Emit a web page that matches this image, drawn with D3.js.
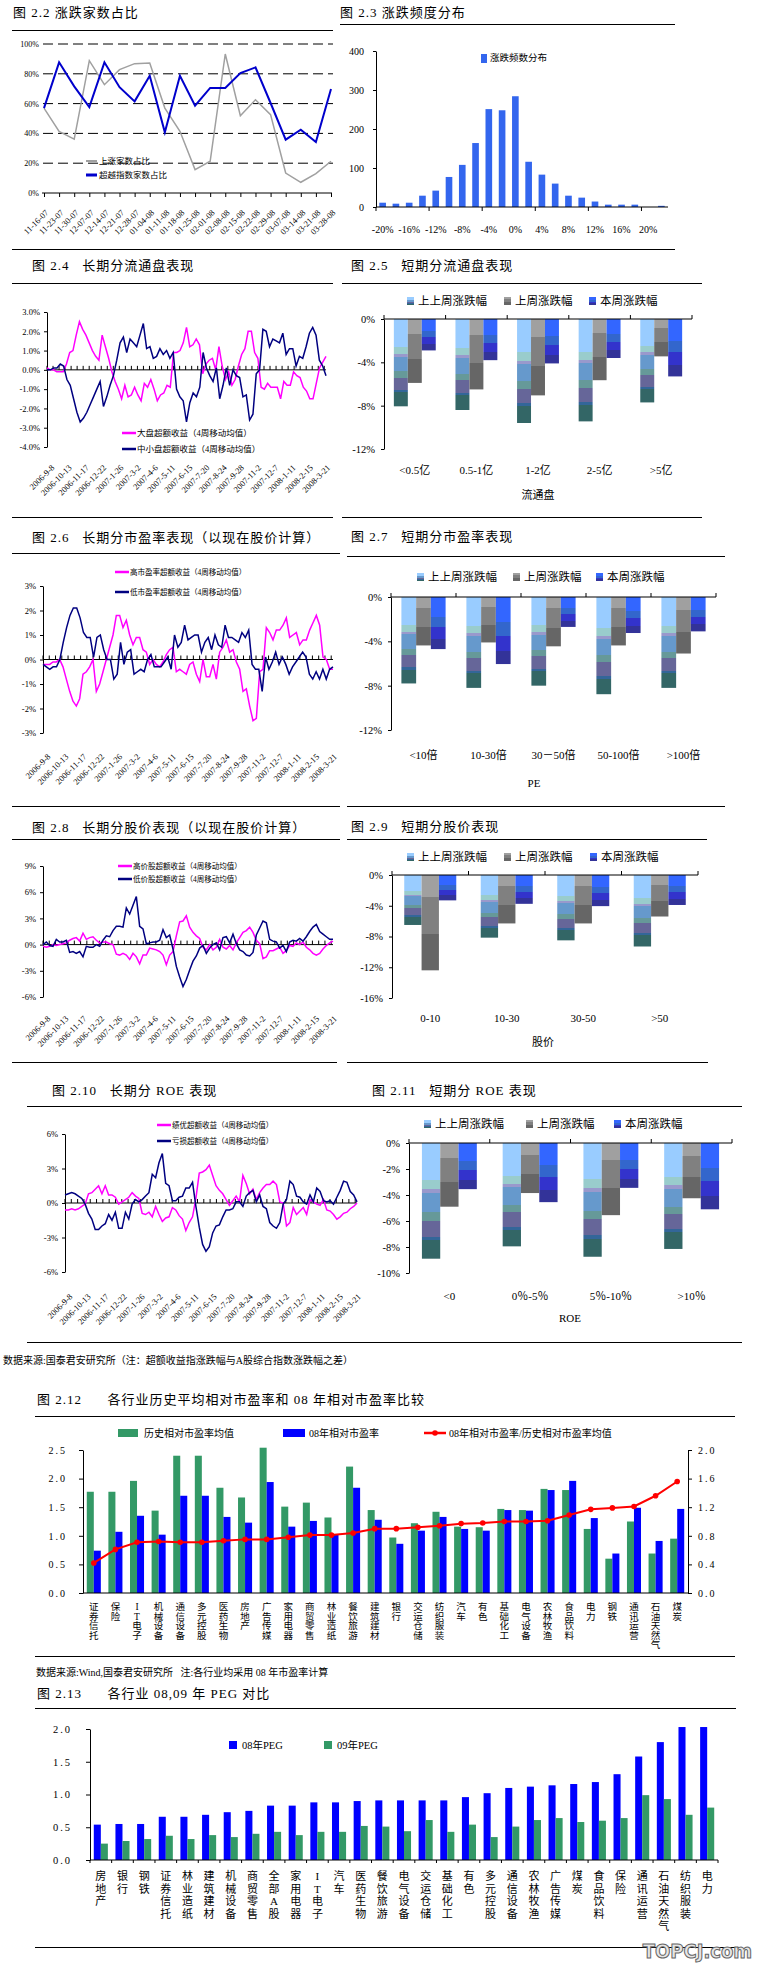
<!DOCTYPE html>
<html>
<head>
<meta charset="utf-8">
<script src="https://cdn.jsdelivr.net/npm/d3@7"></script>
<style>
  body { margin: 0; background: #fff; }
  svg { display: block; }
  text { white-space: pre; }
</style>
</head>
<body>
<div id="chart"></div>
<script>
// ---------------- data ----------------
// 2.2 advancing / beating-index share by week
const adDates = ["11-16-07","11-23-07","11-30-07","12-07-07","12-14-07","12-21-07","12-28-07","01-04-08","01-11-08","01-18-08",
  "01-25-08","02-01-08","02-08-08","02-15-08","02-22-08","02-29-08","03-07-08","03-14-08","03-21-08","03-28-08"];
const adUpShare = [57,41.4,36.2,88.8,72.7,82.8,86.8,87.2,57,41.4,15.7,21.3,93.3,51.9,62.6,52.6,13.4,7.2,13,21.3];
const adBeatShare = [57,87.7,71.6,57.7,87.7,71,61.5,78.7,40.7,78.7,58.6,70.5,70.5,80.5,84.3,60.4,35.8,42.5,34.2,69.8];

// 2.3 frequency of weekly change
const freqBins = ["-20%","-18%","-16%","-14%","-12%","-10%","-8%","-6%","-4%","-2%","0%","2%","4%","6%","8%","10%","12%","14%","16%","18%","20%","22%"];
const freqCounts = [11,8.5,11,29,42,77,108,164,251,248,284,116,83,60,29,24,14,6,6,6,0,3];

// long-period weekly excess returns (4-week moving average)
const longDates = ["2006-9-8","2006-10-13","2006-11-17","2006-12-22","2007-1-26","2007-3-2","2007-4-6","2007-5-11","2007-6-15",
  "2007-7-20","2007-8-24","2007-9-28","2007-11-2","2007-12-7","2008-1-11","2008-2-15","2008-3-21"];
const capLarge = [0.1,0.0,0.0,-0.1,-0.1,-0.1,0.3,0.9,1.0,1.8, 2.5,2.1,1.8,1.4,1.0,0.7,0.5,1.8,1.2,0.6,
  -0.1,-0.6,-1.0,-1.5,-0.8,-1.4,-1.3,-0.9,-1.3,-1.6, -0.7,-0.9,-0.5,-1.0,-1.6,-1.3,-1.2,-0.8,-0.9,0.9,
  0.9,1.0,1.4,2.2,1.2,1.3,1.6,1.3,-0.2,0.3, 0.5,0.6,0.0,1.2,0.2,-0.5,-0.1,-0.8,-0.5,0.2,
  0.8,1.1,2.0,2.0,0.9,0.6,-0.9,-1.0,-0.7,-0.9, -0.9,-0.9,-1.5,-0.6,-0.8,-0.8,-0.1,-0.3,-0.4,-0.9,
  -1.1,-1.5,-1.5,-0.7,0.1,0.4,0.7];
const capSmall = [0.0,0.0,0.1,0.1,0.3,0.2,-0.5,-0.8,-1.5,-2.2, -2.7,-2.5,-2.2,-1.8,-1.4,-1.0,-0.6,-1.9,-1.4,-0.8,
  -0.3,0.5,1.4,1.7,0.9,1.6,1.4,1.2,1.8,2.4, 1.1,1.2,0.6,0.7,1.1,0.8,1.0,0.6,0.9,-1.0,
  -1.4,-1.6,-2.7,-1.7,-1.2,-1.4,-0.9,0.9,0.1,-0.3, -0.6,0.1,-1.5,-0.8,0.1,-0.8,0.0,-0.3,-0.4,-1.4,
  -1.3,-2.6,-2.3,-0.2,0.0,2.1,2.0,1.2,1.6,1.5, 1.4,1.9,0.8,1.1,1.1,0.2,0.7,0.6,1.2,1.9,
  2.2,1.8,0.5,0.2,-0.3];
const peHigh = [-0.2,-0.2,-0.2,-0.1,-0.1,0.0,-0.3,-0.8,-1.3,-1.7, -1.9,-1.6,-0.6,-0.5,-0.3,0.0,-1.3,-1.0,-0.5,0.0,
  0.5,1.0,1.8,1.8,1.3,1.6,1.0,0.6,0.9,0.9, 0.4,0.3,-0.2,0.0,-0.2,-0.3,-0.1,0.2,0.4,0.5,
  -0.5,-0.4,-0.5,-0.6,-0.2,-0.1,-0.6,-0.9,0.0,-0.7, -0.7,-0.2,-0.8,0.3,0.5,0.8,0.3,0.4,-0.1,-0.4,
  -1.3,-1.2,-1.9,-2.5,-2.4,-0.5,-0.4,1.3,1.1,0.8, 1.2,1.2,1.4,1.7,0.9,1.0,1.1,0.6,0.8,0.8,
  1.2,1.5,1.8,1.4,0.1,0.0,-0.4,-0.4];
const peLow = [-0.2,-0.3,-0.4,-0.3,-0.3,0.0,0.7,1.3,1.8,2.1, 2.1,1.7,1.1,0.9,0.9,0.1,0.9,1.0,0.4,0.0,
  0.0,-0.8,-0.6,0.7,-0.2,0.3,0.4,-0.6,-0.5,-0.4, -0.5,0.0,0.2,-0.3,-0.3,-0.3,-0.1,0.1,-0.4,1.0,
  0.5,0.7,1.4,0.8,0.9,1.0,1.0,0.3,0.7,0.9, 0.4,1.0,0.6,0.5,1.4,0.9,0.9,0.8,0.7,1.1,
  0.9,1.2,-0.2,-0.4,-0.4,-1.3,0.1,-0.4,-0.1,0.3, -0.2,0.1,-0.2,-0.6,-0.3,-0.1,0.1,0.3,0.1,-0.6,
  -0.8,-0.5,-0.8,-0.4,-0.8,-0.4,-0.3];
const priceHigh = [-0.2,-0.3,-0.2,0.0,-0.1,0.0,0.1,0.2,0.5,0.7, 0.8,0.4,1.3,0.6,0.8,0.9,0.5,0.2,0.3,0.3,
  0.1,0.0,-1.1,-1.2,-1.0,-1.2,-1.7,-1.0,-1.4,-2.2, -1.2,-1.2,-0.4,-0.5,-0.6,-0.8,-1.2,-2.3,-1.2,-0.8,
  1.0,2.6,2.7,3.3,2.0,1.4,1.0,0.7,-0.3,-0.6, 0.0,-0.6,-0.3,0.6,-0.3,-0.5,-0.1,-0.6,0.2,0.8,
  1.4,1.6,2.0,1.4,0.5,0.1,-1.6,-1.4,-0.7,-0.7, -0.5,-0.3,-1.0,-0.7,-0.1,-0.2,0.2,0.0,0.3,-0.3,
  -0.6,-1.0,-1.2,-1.0,-0.5,-0.1,0.2,0.4];
const priceLow = [0.0,0.3,-0.1,-0.2,0.6,0.3,0.3,0.5,-0.9,-0.8, -1.0,-0.8,-1.4,-0.2,-0.3,-0.3,0.0,-0.2,0.5,1.0,
  0.9,1.6,2.1,2.1,2.0,4.2,3.5,4.5,5.5,2.1, 1.8,0.1,0.2,0.3,0.3,0.5,1.7,0.8,1.1,-0.5,
  -2.5,-3.7,-4.8,-4.0,-2.9,-1.9,-1.3,-0.4,-0.1,-1.0, -0.4,0.0,0.2,-0.6,0.8,0.9,0.2,1.2,0.1,-0.6,
  -0.8,-1.2,-1.3,-0.9,1.1,1.9,2.7,2.5,0.6,0.4, 0.3,-0.4,-0.1,-0.8,0.3,0.5,0.4,0.7,0.4,0.9,
  1.5,2.0,2.3,1.5,1.2,0.9,0.6,0.6];
const roeGood = [-0.6,-0.6,-0.5,-0.6,-0.5,-0.3,-0.1,0.8,0.9,1.2, 1.5,0.8,1.5,0.7,0.7,0.5,-0.1,0.1,0.3,0.5,
  0.9,0.6,0.4,-0.9,-1.0,-0.8,-1.2,-0.3,-1.0,-1.6, -1.3,-1.2,-0.4,-0.6,-1.1,-1.4,-2.4,-1.7,-1.2,0.4,
  2.6,2.7,2.9,3.3,2.4,1.5,1.1,0.8,0.3,-0.2, 0.2,0.6,0.1,2.4,1.7,0.8,1.2,0.3,0.9,1.3,
  1.6,1.6,1.9,1.6,0.1,0.0,-2.0,-1.7,-0.4,-1.0, -0.7,-0.4,-1.0,0.3,0.1,-0.1,-0.2,0.3,-0.6,-0.7,
  -1.0,-1.4,-1.2,-0.9,-0.8,-0.5,-0.3,0.0];
const roeLoss = [0.7,0.8,0.9,0.8,0.6,0.4,-0.1,-0.9,-1.4,-2.3, -2.3,-2.0,-1.8,-1.0,-1.5,-0.8,-2.2,-2.2,-0.8,-1.4,
  -0.1,0.3,0.1,0.3,0.6,0.9,2.5,2.2,3.5,4.3, 1.7,1.5,0.2,0.2,0.5,0.6,1.3,1.3,1.8,-0.3,
  -2.1,-3.6,-4.2,-3.8,-2.6,-2.0,-1.9,-1.2,-0.6,-0.6, -0.5,0.1,0.1,-0.3,0.6,0.9,1.1,0.1,0.7,-0.3,
  -0.5,-1.7,-2.0,-2.2,-1.7,-0.1,0.3,1.9,1.6,0.6, 0.5,0.1,-0.1,0.7,0.1,1.3,1.0,0.2,0.1,0.2,
  -0.1,0.5,1.1,1.9,1.8,1.0,0.7,0.1];

// short-period weekly change by group (%)
const weekSeries = ["上上周涨跌幅","上周涨跌幅","本周涨跌幅"];
const capGroups = ["<0.5亿","0.5-1亿","1-2亿","2-5亿",">5亿"];
const capPrev2 = [-8.06,-8.4,-9.6,-9.45,-7.7];
const capPrev = [-5.9,-6.5,-7.05,-5.65,-3.45];
const capThis = [-2.9,-3.8,-4.1,-3.6,-5.3];
const peGroups = ["<10倍","10-30倍","30－50倍","50-100倍",">100倍"];
const pePrev2 = [-7.8,-8.2,-8.0,-8.77,-8.2];
const pePrev = [-4.37,-4.1,-4.45,-4.37,-5.1];
const peThis = [-4.7,-6.05,-2.7,-3.25,-3.1];
const priceGroups = ["0-10","10-30","30-50",">50"];
const pricePrev2 = [-6.5,-8.15,-8.5,-9.3];
const pricePrev = [-12.4,-6.3,-6.3,-5.4];
const priceThis = [-3.3,-3.75,-4.05,-3.9];
const roeGroups = ["<0","0％-5％","5％-10％",">10％"];
const roePrev2 = [-8.9,-7.95,-8.75,-8.15];
const roePrev = [-4.9,-3.85,-5.55,-4.25];
const roeThis = [-3.55,-4.55,-3.45,-5.1];

// 2.12 relative PE by industry
const industries12 = ["证券信托","保险","IT电子","机械设备","通信设备","多元控股","医药生物","房地产","广告传媒","家用电器",
  "商贸零售","林业造纸","餐饮旅游","建筑建材","银行","交运仓储","纺织服装","汽车","有色","基础化工",
  "电气设备","农林牧渔","食品饮料","电力","钢铁","通讯运营","石油天然气","煤炭"];
const peHist = [1.77,1.77,1.96,1.44,2.40,2.40,1.84,1.67,2.54,1.51,1.58,1.32,2.21,1.45,0.97,1.22,1.42,1.16,1.15,1.47,1.45,1.82,1.80,1.12,0.60,1.25,0.69,0.95];
const pe08 = [0.74,1.07,1.35,1.02,1.70,1.70,1.33,1.23,1.94,1.16,1.26,1.02,1.84,1.28,0.86,1.09,1.33,1.12,1.09,1.45,1.44,1.80,1.96,1.31,0.69,1.49,0.91,1.47];
const peRatio = [0.42,0.61,0.71,0.72,0.71,0.71,0.73,0.75,0.75,0.78,0.81,0.81,0.84,0.90,0.90,0.92,0.94,0.97,0.98,1.00,1.00,1.01,1.09,1.17,1.19,1.21,1.36,1.56];

// 2.13 PEG by industry
const industries13 = ["房地产","银行","钢铁","证券信托","林业造纸","建筑建材","机械设备","商贸零售","全部A股","家用电器",
  "IT电子","汽车","医药生物","餐饮旅游","电气设备","交运仓储","基础化工","有色","多元控股","通信设备",
  "农林牧渔","广告传媒","煤炭","食品饮料","保险","通讯运营","石油天然气","纺织服装","电力"];
const peg08 = [0.54,0.55,0.55,0.66,0.66,0.69,0.73,0.75,0.83,0.83,0.88,0.88,0.90,0.91,0.91,0.91,0.91,0.96,1.02,1.10,1.12,1.14,1.16,1.19,1.31,1.58,1.80,2.03,2.03];
const peg09 = [0.25,0.29,0.32,0.37,0.32,0.38,0.35,0.40,0.43,0.38,0.43,0.43,0.52,0.51,0.44,0.61,0.43,0.54,0.35,0.51,0.61,0.64,0.58,0.60,0.64,0.99,0.93,0.69,0.80];

// ---------------- page ----------------
const FONT = '"Liberation Serif","Noto Sans CJK SC",serif';
const svg = d3.select("#chart").append("svg")
  .attr("width", 762).attr("height", 1966)
  .attr("font-family", FONT);

const defs = svg.append("defs");
// excel-style banded fills for the three weekly series
const barBands = [
  [[0,"#99ccff"],[0.32,"#99cccc"],[0.40,"#9999cc"],[0.43,"#6699cc"],[0.60,"#669999"],[0.67,"#666699"],[0.81,"#336699"],[0.84,"#336666"]],
  [[0,"#a0a0a0"],[0.23,"#808080"],[0.62,"#666666"]],
  [[0,"#3366ff"],[0.38,"#3366cc"],[0.58,"#3333cc"],[0.80,"#333399"]]
];
barBands.forEach((bands, k) => {
  const lg = defs.append("linearGradient").attr("id", "wk" + k)
    .attr("x1", 0).attr("y1", 0).attr("x2", 0).attr("y2", 1);
  bands.forEach(([off, col], j) => {
    const end = j + 1 < bands.length ? bands[j + 1][0] : 1;
    lg.append("stop").attr("offset", off).attr("stop-color", col);
    lg.append("stop").attr("offset", end).attr("stop-color", col);
  });
});

function label(g, x, y, s, size, anchor) {
  return g.append("text").attr("x", x).attr("y", y)
    .attr("font-size", size)
    .attr("text-anchor", anchor || "start")
    .attr("dominant-baseline", "central")
    .text(s);
}
function title(s, x, y) {
  label(svg, x, y, s, 13).attr("letter-spacing", 1);
}
function styleAxis(a, size) {
  a.attr("font-family", null).attr("font-size", size);
  a.select(".domain").attr("stroke", "#000");
  a.selectAll(".tick line").attr("stroke", "#000");
  a.selectAll(".tick text").attr("fill", "#000");
}
function vertLabel(g, x, y0, s, pitch, size) {
  const t = g.append("text").attr("font-size", size).attr("text-anchor", "middle")
    .attr("dominant-baseline", "central");
  Array.from(s).forEach((c, i) => t.append("tspan").attr("x", x).attr("y", y0 + i * pitch).text(c));
}

// horizontal rules of the report layout
const rules = [[12,333,30],[340,675,24],[12,675,249],[12,333,283],[342,702,283],[12,333,517],[342,702,517],
  [12,340,553],[347,725,556],[12,340,806],[347,725,806],[12,340,839],[347,707,839],[12,337,1062],[347,708,1062],
  [27,742,1106],[27,742,1342],[35,735,1416],[35,735,1656],[35,736,1708],[35,736,1947]];
svg.append("g").selectAll("line").data(rules).join("line")
  .attr("x1", d => d[0]).attr("x2", d => d[1])
  .attr("y1", d => d[2] + 0.5).attr("y2", d => d[2] + 0.5)
  .attr("stroke", "#000");

// ---------------- 2.2 ----------------
title("图 2.2 涨跌家数占比", 13, 12);
{
  const g = svg.append("g");
  const x = d3.scalePoint().domain(adDates).range([44, 331]);
  const y = d3.scaleLinear().domain([0, 100]).range([193, 44]);
  g.selectAll("line.grid").data([20, 40, 60, 80, 100]).join("line")
    .attr("x1", 43).attr("x2", 333).attr("y1", d => y(d)).attr("y2", d => y(d))
    .attr("stroke", "#000").attr("stroke-dasharray", "10,5");
  const xa = g.append("g").attr("transform", `translate(0,${y(0)})`)
    .call(d3.axisBottom(x).tickSize(4).tickSizeOuter(0).tickFormat(""));
  styleAxis(xa, 8);
  xa.select(".domain").attr("d", "M-1,0H289").attr("transform", "translate(43,0)");
  const ya = g.append("g").attr("transform", "translate(43,0)")
    .call(d3.axisLeft(y).tickValues([0, 20, 40, 60, 80, 100]).tickSize(0).tickPadding(4).tickFormat(d => d + "%"));
  styleAxis(ya, 8);
  ya.select(".domain").remove();

  const line = d3.line().x((d, i) => x(adDates[i])).y(d => y(d));
  g.append("path").datum(adUpShare).attr("d", line)
    .attr("fill", "none").attr("stroke", "#a0a0a0").attr("stroke-width", 1.5);
  g.append("path").datum(adBeatShare).attr("d", line)
    .attr("fill", "none").attr("stroke", "#0000cc").attr("stroke-width", 2);

  g.selectAll("text.ad").data(adDates).join("text").attr("class", "ad")
    .attr("transform", d => `translate(${x(d) + 3},211) rotate(-45)`)
    .attr("text-anchor", "end").attr("dominant-baseline", "central")
    .attr("font-size", 8.5).text(d => d);

  g.append("line").attr("x1", 86).attr("x2", 97).attr("y1", 161).attr("y2", 161)
    .attr("stroke", "#a0a0a0").attr("stroke-width", 2);
  label(g, 99, 161, "上涨家数占比", 8.5);
  g.append("line").attr("x1", 86).attr("x2", 97).attr("y1", 175).attr("y2", 175)
    .attr("stroke", "#0000cc").attr("stroke-width", 3);
  label(g, 99, 175, "超越指数家数占比", 8.5);
}

// ---------------- 2.3 ----------------
title("图 2.3 涨跌频度分布", 340, 12);
{
  const g = svg.append("g");
  const x = d3.scaleBand().domain(freqBins).range([376, 668]).paddingInner(0.5).paddingOuter(0.25);
  const y = d3.scaleLinear().domain([0, 400]).range([207, 51]);
  g.selectAll("rect").data(freqCounts).join("rect")
    .attr("x", (d, i) => x(freqBins[i])).attr("width", x.bandwidth())
    .attr("y", d => y(d)).attr("height", d => y(0) - y(d))
    .attr("fill", "#3366ee");
  const ya = g.append("g").attr("transform", "translate(376,0)")
    .call(d3.axisLeft(y).tickValues([0, 100, 200, 300, 400]).tickSize(3).tickSizeOuter(0).tickPadding(9));
  styleAxis(ya, 10);
  g.append("line").attr("x1", 376).attr("x2", 668).attr("y1", y(0)).attr("y2", y(0)).attr("stroke", "#000");
  g.selectAll("line.fb").data(d3.range(0, 23, 4)).join("line").attr("class", "fb")
    .attr("x1", k => 376 + k * x.step()).attr("x2", k => 376 + k * x.step())
    .attr("y1", y(0)).attr("y2", y(0) + 4).attr("stroke", "#000");
  g.selectAll("text.fl").data(freqBins.filter((d, i) => i % 2 === 0 && i <= 20)).join("text").attr("class", "fl")
    .attr("x", d => x(d) + x.bandwidth() / 2).attr("y", 229)
    .attr("text-anchor", "middle").attr("dominant-baseline", "central")
    .attr("font-size", 10).text(d => d);
  g.append("rect").attr("x", 481).attr("y", 54).attr("width", 6).attr("height", 9).attr("fill", "#3366ee");
  label(g, 490, 58, "涨跌频数分布", 9.5);
}

// ---------------- long charts ----------------
function weekChart(o) {
  const g = svg.append("g");
  const x = d3.scaleLinear().domain([0, 81]).range([o.x0, o.x1]);
  const y = d3.scaleLinear().domain(o.yDomain).range([o.yBottom, o.yTop]);
  const ya = g.append("g").attr("transform", `translate(${o.x0},0)`)
    .call(d3.axisLeft(y).tickValues(o.yTicks).tickSize(3).tickSizeOuter(0).tickPadding(4).tickFormat(o.fmt));
  styleAxis(ya, 8.5);
  g.append("line").attr("x1", o.x0).attr("x2", o.x1).attr("y1", y(0)).attr("y2", y(0)).attr("stroke", "#000");
  g.selectAll("line.wt").data(d3.range(0, 82, 1.75)).join("line").attr("class", "wt")
    .attr("x1", d => x(d)).attr("x2", d => x(d))
    .attr("y1", y(0)).attr("y2", y(0) - 4).attr("stroke", "#000");
  o.series.forEach(s => {
    const step = 81 / (s.values.length - 1);
    g.append("path").datum(s.values)
      .attr("d", d3.line().x((d, i) => x(i * step)).y(d => y(d)))
      .attr("fill", "none").attr("stroke", s.color).attr("stroke-width", 1.5);
  });
  g.selectAll("text.wd").data(longDates).join("text").attr("class", "wd")
    .attr("transform", (d, i) => `translate(${x(i * 5) + 6},${o.labelY}) rotate(-45)`)
    .attr("text-anchor", "end").attr("dominant-baseline", "central")
    .attr("font-size", 8.5).text(d => d);
  o.series.forEach((s, k) => {
    const ly = o.legend[1] + k * o.legendGap;
    g.append("line").attr("x1", o.legend[0]).attr("x2", o.legend[0] + 14)
      .attr("y1", ly).attr("y2", ly).attr("stroke", s.color).attr("stroke-width", 2.5);
    label(g, o.legend[0] + 15, ly, s.name, o.legendSize);
  });
}

title("图 2.4   长期分流通盘表现", 32, 265);
weekChart({
  x0: 47, x1: 326, yDomain: [-4, 3], yBottom: 447, yTop: 312,
  yTicks: [-4, -3, -2, -1, 0, 1, 2, 3], fmt: d => d.toFixed(1) + "%",
  labelY: 466, legend: [122, 433], legendGap: 16, legendSize: 8.5,
  series: [
    { name: "大盘超额收益（4周移动均值）", values: capLarge, color: "#ff00ff" },
    { name: "中小盘超额收益（4周移动均值）", values: capSmall, color: "#000080" }
  ]
});

title("图 2.6   长期分市盈率表现（以现在股价计算）", 32, 537);
weekChart({
  x0: 43, x1: 333, yDomain: [-3, 3], yBottom: 733, yTop: 586,
  yTicks: [-3, -2, -1, 0, 1, 2, 3], fmt: d => d + "%",
  labelY: 755, legend: [115, 572], legendGap: 20, legendSize: 7.5,
  series: [
    { name: "高市盈率超额收益（4周移动均值）", values: peHigh, color: "#ff00ff" },
    { name: "低市盈率超额收益（4周移动均值）", values: peLow, color: "#000080" }
  ]
});

title("图 2.8   长期分股价表现（以现在股价计算）", 32, 827);
weekChart({
  x0: 43, x1: 333, yDomain: [-6, 9], yBottom: 997, yTop: 866,
  yTicks: [-6, -3, 0, 3, 6, 9], fmt: d => d + "%",
  labelY: 1017, legend: [118, 866], legendGap: 13, legendSize: 7.5,
  series: [
    { name: "高价股超额收益（4周移动均值）", values: priceHigh, color: "#ff00ff" },
    { name: "低价股超额收益（4周移动均值）", values: priceLow, color: "#000080" }
  ]
});

title("图 2.10   长期分 ROE 表现", 52, 1090);
weekChart({
  x0: 65, x1: 357, yDomain: [-6, 6], yBottom: 1272, yTop: 1134,
  yTicks: [-6, -3, 0, 3, 6], fmt: d => d + "%",
  labelY: 1295, legend: [157, 1125], legendGap: 16, legendSize: 7.5,
  series: [
    { name: "绩优超额收益（4周移动均值）", values: roeGood, color: "#ff00ff" },
    { name: "亏损超额收益（4周移动均值）", values: roeLoss, color: "#000080" }
  ]
});

// ---------------- short grouped bars ----------------
function weekBars(o) {
  const g = svg.append("g");
  const x0 = d3.scaleBand().domain(o.groups).range([o.x0, o.x1]).paddingInner(0.32).paddingOuter(0.16);
  const x1 = d3.scaleBand().domain(weekSeries).range([0, x0.bandwidth()]);
  const y = d3.scaleLinear().domain([o.min, 0]).range([o.yBottom, o.yTop]);
  const rows = o.groups.map((grp, i) => ({ grp, vals: o.values.map(s => s[i]) }));
  g.selectAll("g.grp").data(rows).join("g").attr("class", "grp")
    .attr("transform", d => `translate(${x0(d.grp)},0)`)
    .selectAll("rect").data(d => d.vals).join("rect")
    .attr("x", (v, k) => x1(weekSeries[k])).attr("width", x1.bandwidth())
    .attr("y", y(0)).attr("height", v => y(v) - y(0))
    .attr("fill", (v, k) => `url(#wk${k})`);
  const ya = g.append("g").attr("transform", `translate(${o.x0},0)`)
    .call(d3.axisLeft(y).tickValues(d3.range(0, o.min - 1, -o.step)).tickSize(3).tickSizeOuter(0)
      .tickPadding(6).tickFormat(d => d + "%"));
  styleAxis(ya, 10.5);
  g.append("line").attr("x1", o.x0).attr("x2", o.x1).attr("y1", y(0)).attr("y2", y(0)).attr("stroke", "#000");
  g.selectAll("line.gb").data(d3.range(o.groups.length + 1)).join("line").attr("class", "gb")
    .attr("x1", k => o.x0 + k * x0.step()).attr("x2", k => o.x0 + k * x0.step())
    .attr("y1", y(0)).attr("y2", y(0) - 4).attr("stroke", "#000");
  o.groups.forEach(grp => label(g, x0(grp) + x0.bandwidth() / 2, o.labelY, grp, 11, "middle"));
  label(g, o.titleX, o.titleY, o.axisTitle, 11, "middle");
  weekSeries.forEach((s, k) => {
    g.append("rect").attr("x", o.legendX[k]).attr("y", o.legendY - 4).attr("width", 7).attr("height", 8)
      .attr("fill", `url(#wk${k})`);
    label(g, o.legendX[k] + 11, o.legendY, s, 11.5);
  });
}

title("图 2.5   短期分流通盘表现", 351, 265);
weekBars({
  groups: capGroups, values: [capPrev2, capPrev, capThis], min: -12, step: 4,
  x0: 384, x1: 692, yTop: 319, yBottom: 449,
  labelY: 470, axisTitle: "流通盘", titleX: 538, titleY: 495,
  legendY: 301, legendX: [407, 504, 589]
});

title("图 2.7   短期分市盈率表现", 351, 536);
weekBars({
  groups: peGroups, values: [pePrev2, pePrev, peThis], min: -12, step: 4,
  x0: 391, x1: 716, yTop: 597, yBottom: 730,
  labelY: 755, axisTitle: "PE", titleX: 534, titleY: 783,
  legendY: 577, legendX: [417, 513, 596]
});

title("图 2.9   短期分股价表现", 351, 826);
weekBars({
  groups: priceGroups, values: [pricePrev2, pricePrev, priceThis], min: -16, step: 4,
  x0: 392, x1: 698, yTop: 875, yBottom: 998,
  labelY: 1018, axisTitle: "股价", titleX: 543, titleY: 1042,
  legendY: 857, legendX: [407, 504, 590]
});

title("图 2.11   短期分 ROE 表现", 372, 1090);
weekBars({
  groups: roeGroups, values: [roePrev2, roePrev, roeThis], min: -10, step: 2,
  x0: 409, x1: 732, yTop: 1143, yBottom: 1273,
  labelY: 1296, axisTitle: "ROE", titleX: 570, titleY: 1318,
  legendY: 1124, legendX: [424, 526, 614]
});

label(svg, 3, 1360, "数据来源:国泰君安研究所（注：超额收益指涨跌幅与A股综合指数涨跌幅之差）", 10);

// ---------------- 2.12 ----------------
title("图 2.12      各行业历史平均相对市盈率和 08 年相对市盈率比较", 37, 1399);
{
  const g = svg.append("g");
  const x = d3.scaleBand().domain(industries12).range([83, 688]).paddingInner(0.35).paddingOuter(0.175);
  const xs = d3.scaleBand().domain([0, 1]).range([0, x.bandwidth()]);
  const yL = d3.scaleLinear().domain([0, 2.5]).range([1593, 1450]);
  const yR = d3.scaleLinear().domain([0, 2]).range([1593, 1450]);
  [[peHist, "#339966"], [pe08, "#0000ff"]].forEach(([vals, col], k) => {
    g.append("g").selectAll("rect").data(vals).enter().append("rect")
      .attr("x", (v, i) => x(industries12[i]) + xs(k)).attr("width", xs.bandwidth())
      .attr("y", v => yL(v)).attr("height", v => yL(0) - yL(v)).attr("fill", col);
  });
  const cx = (d, i) => x(industries12[i]) + x.bandwidth() / 2;
  g.append("path").datum(peRatio).attr("d", d3.line().x(cx).y(d => yR(d)))
    .attr("fill", "none").attr("stroke", "#ff0000").attr("stroke-width", 2);
  g.append("g").selectAll("circle").data(peRatio).enter().append("circle")
    .attr("cx", cx).attr("cy", d => yR(d)).attr("r", 2.8).attr("fill", "#ff0000");

  const la = g.append("g").attr("transform", "translate(83,0)")
    .call(d3.axisLeft(yL).tickValues([0, 0.5, 1, 1.5, 2, 2.5]).tickFormat(d3.format(".1f"))
      .tickSize(4).tickSizeOuter(0).tickPadding(12));
  styleAxis(la, 10);
  la.selectAll(".tick text").attr("letter-spacing", 2);
  const ra = g.append("g").attr("transform", "translate(688,0)")
    .call(d3.axisRight(yR).tickValues([0, 0.4, 0.8, 1.2, 1.6, 2.0]).tickFormat(d3.format(".1f"))
      .tickSize(4).tickSizeOuter(0).tickPadding(6));
  styleAxis(ra, 10);
  ra.selectAll(".tick text").attr("letter-spacing", 2);
  g.append("line").attr("x1", 83).attr("x2", 688).attr("y1", 1593).attr("y2", 1593).attr("stroke", "#000");
  industries12.forEach(n => vertLabel(g, x(n) + x.bandwidth() / 2, 1607, n, 9.6, 9.5));

  g.append("rect").attr("x", 118).attr("y", 1429).attr("width", 20).attr("height", 8).attr("fill", "#339966");
  label(g, 144, 1433, "历史相对市盈率均值", 10);
  g.append("rect").attr("x", 283).attr("y", 1429).attr("width", 22).attr("height", 8).attr("fill", "#0000ff");
  label(g, 309, 1433, "08年相对市盈率", 10);
  g.append("line").attr("x1", 424).attr("x2", 446).attr("y1", 1433).attr("y2", 1433)
    .attr("stroke", "#ff0000").attr("stroke-width", 2.5);
  g.append("circle").attr("cx", 435).attr("cy", 1433).attr("r", 2.8).attr("fill", "#ff0000");
  label(g, 449, 1433, "08年相对市盈率/历史相对市盈率均值", 10);
}

label(svg, 36, 1672, "数据来源:Wind,国泰君安研究所   注:各行业均采用 08 年市盈率计算", 10);

// ---------------- 2.13 ----------------
title("图 2.13      各行业 08,09 年 PEG 对比", 37, 1693);
{
  const g = svg.append("g");
  const x = d3.scaleBand().domain(industries13).range([90, 718]).paddingInner(0.35).paddingOuter(0.175);
  const xs = d3.scaleBand().domain([0, 1]).range([0, x.bandwidth()]);
  const y = d3.scaleLinear().domain([0, 2]).range([1860, 1729]);
  [[peg08, "#0000ff"], [peg09, "#339966"]].forEach(([vals, col], k) => {
    g.append("g").selectAll("rect").data(vals).enter().append("rect")
      .attr("x", (v, i) => x(industries13[i]) + xs(k)).attr("width", xs.bandwidth())
      .attr("y", v => y(v)).attr("height", v => y(0) - y(v)).attr("fill", col);
  });
  const ya = g.append("g").attr("transform", "translate(90,0)")
    .call(d3.axisLeft(y).tickValues([0, 0.5, 1, 1.5, 2]).tickFormat(d3.format(".1f"))
      .tickSize(4).tickSizeOuter(0).tickPadding(14));
  styleAxis(ya, 10.5);
  ya.selectAll(".tick text").attr("letter-spacing", 2);
  g.append("line").attr("x1", 90).attr("x2", 718).attr("y1", 1860).attr("y2", 1860).attr("stroke", "#000");
  g.selectAll("line.pb").data(d3.range(industries13.length + 1)).join("line").attr("class", "pb")
    .attr("x1", k => 90 + k * x.step()).attr("x2", k => 90 + k * x.step())
    .attr("y1", 1860).attr("y2", 1863).attr("stroke", "#000");
  industries13.forEach(n => vertLabel(g, x(n) + x.bandwidth() / 2, 1876, n, 12.5, 11));

  g.append("rect").attr("x", 229).attr("y", 1741).attr("width", 8).attr("height", 8).attr("fill", "#0000ff");
  label(g, 242, 1745, "08年PEG", 10.5);
  g.append("rect").attr("x", 324).attr("y", 1741).attr("width", 8).attr("height", 8).attr("fill", "#339966");
  label(g, 337, 1745, "09年PEG", 10.5);
}

// watermark
svg.append("text").attr("x", 752).attr("y", 1958).attr("text-anchor", "end")
  .attr("font-family", '"DejaVu Sans Condensed","DejaVu Sans",sans-serif').attr("font-weight", "bold")
  .attr("font-size", 20)
  .attr("fill", "#e6e6e6").attr("stroke", "#666").attr("stroke-width", 1)
  .text("TOPCJ.com");
</script>
</body>
</html>
